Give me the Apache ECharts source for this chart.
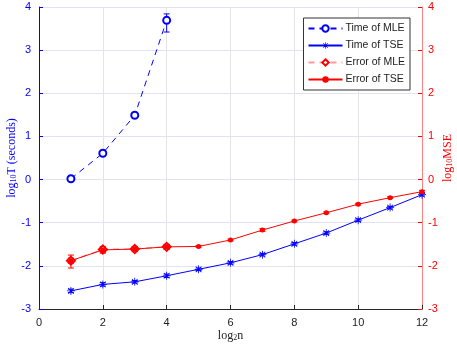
<!DOCTYPE html>
<html>
<head>
<meta charset="utf-8">
<script src="https://cdn.jsdelivr.net/npm/echarts@6/dist/echarts.min.js"></script>
<style>
  html, body { margin: 0; padding: 0; background: #fff; }
  #chart { width: 457px; height: 348px; }
</style>
</head>
<body>
<div id="chart"></div>
<script>
// log2 n
const nMle = [1, 2, 3, 4]
const nTse = [1, 2, 3, 4, 5, 6, 7, 8, 9, 10, 11, 12]

// log10 T (seconds)
const timeMle = [0.02, 0.61, 1.49, 3.69]
const timeMleLow = [-0.03, 0.57, 1.44, 3.42]
const timeMleHigh = [0.06, 0.65, 1.55, 3.84]

const timeTse = [-2.58, -2.43, -2.37, -2.23, -2.08, -1.93, -1.74, -1.49, -1.24, -0.94, -0.65, -0.35]
const timeTseErr = [0.04, 0.04, 0.03, 0.04, 0.03, 0.03, 0.03, 0.03, 0.03, 0.03, 0.03, 0.03]

// log10 MSE
const errMle = [-1.88, -1.62, -1.61, -1.56]
const errMleLow = [-2.05, -1.70, -1.67, -1.62]
const errMleHigh = [-1.75, -1.55, -1.55, -1.50]

const errTse = [-1.88, -1.63, -1.61, -1.56, -1.55, -1.40, -1.17, -0.96, -0.77, -0.57, -0.42, -0.28]
const errTseErr = [0.06, 0.07, 0.05, 0.05, 0.02, 0.02, 0.03, 0.02, 0.02, 0.02, 0.02, 0.03]

const blue = '#0000ff'
const red = '#ff0000'

// asterisk marker like matlab '*'
const star = 'path://M-0.5,-5L0.5,-5L0.5,5L-0.5,5Z M-5,-0.5L5,-0.5L5,0.5L-5,0.5Z ' +
  'M-3.15,-3.85L3.85,3.15L3.15,3.85L-3.85,-3.15Z M-3.85,3.15L3.15,-3.85L3.85,-3.15L-3.15,3.85Z'

function errorBar(name, xs, lows, highs, color, yAxisIndex) {
  const data = xs.map((x, i) => [x, lows[i], highs[i]])
  return {
    name: name,
    type: 'custom',
    yAxisIndex: yAxisIndex,
    silent: true,
    z: 3,
    renderItem: function(params, api) {
      const lo = api.coord([api.value(0), api.value(1)])
      const hi = api.coord([api.value(0), api.value(2)])
      const w = 3
      const style = { stroke: color, lineWidth: 1 }
      return {
        type: 'group',
        children: [
          { type: 'line', shape: { x1: lo[0], y1: lo[1], x2: hi[0], y2: hi[1] }, style: style },
          { type: 'line', shape: { x1: lo[0] - w, y1: lo[1], x2: lo[0] + w, y2: lo[1] }, style: style },
          { type: 'line', shape: { x1: hi[0] - w, y1: hi[1], x2: hi[0] + w, y2: hi[1] }, style: style }
        ]
      }
    },
    encode: { x: 0, y: [1, 2] },
    data: data
  }
}

const chart = echarts.init(document.getElementById('chart'))
const tickFont = { fontFamily: 'Liberation Sans', fontSize: 11 }

const option = {
  animation: false,
  grid: { left: 39, right: 35, top: 7, bottom: 39, containLabel: false, outerBoundsMode: 'none' },
  legend: {
    data: ['Time of MLE', 'Time of TSE', 'Error of MLE', 'Error of TSE'],
    orient: 'vertical',
    right: 47,
    top: 18,
    itemWidth: 34,
    itemHeight: 8,
    itemGap: 6,
    padding: [5, 5, 5, 4],
    backgroundColor: '#fff',
    borderColor: '#333',
    borderWidth: 1,
    borderRadius: 0,
    textStyle: { fontFamily: 'Liberation Sans', fontSize: 10.5, color: '#222', padding: [0, 0, 0, -2] }
  },
  xAxis: {
    type: 'value',
    min: 0,
    max: 12,
    interval: 2,
    name: 'log{s|2}n',
    nameLocation: 'middle',
    nameGap: 21,
    nameMoveOverlap: false,
    nameTextStyle: {
      fontFamily: 'Liberation Serif', fontSize: 12, color: '#222',
      rich: { s: { fontFamily: 'Liberation Serif', fontSize: 8, color: '#222', verticalAlign: 'bottom', lineHeight: 10 } }
    },
    axisLine: { onZero: false, lineStyle: { color: '#262626', width: 1 } },
    axisTick: { inside: true, length: 4, lineStyle: { color: '#262626' } },
    axisLabel: Object.assign({ color: '#222', margin: 8 }, tickFont),
    splitLine: { show: true, lineStyle: { color: '#e4e4e8', width: 1 } }
  },
  yAxis: [
    {
      type: 'value',
      min: -3,
      max: 4,
      interval: 1,
      position: 'left',
      name: 'log{s|10}T (seconds)',
      nameLocation: 'middle',
      nameRotate: 90,
      nameGap: 21,
      nameMoveOverlap: false,
      nameTextStyle: {
        fontFamily: 'Liberation Serif', fontSize: 12, color: blue,
        rich: { s: { fontFamily: 'Liberation Serif', fontSize: 8, color: blue, verticalAlign: 'bottom', lineHeight: 10 } }
      },
      axisLine: { show: true, onZero: false, lineStyle: { color: blue, width: 1 } },
      axisTick: { show: true, inside: true, length: 4, lineStyle: { color: blue } },
      axisLabel: Object.assign({ color: blue, margin: 8 }, tickFont),
      splitLine: { show: true, lineStyle: { color: '#e2e2f6', width: 1 } }
    },
    {
      type: 'value',
      min: -3,
      max: 4,
      interval: 1,
      position: 'right',
      name: 'log{s|10}MSE',
      nameLocation: 'middle',
      nameRotate: 90,
      nameGap: 20,
      nameMoveOverlap: false,
      nameTextStyle: {
        fontFamily: 'Liberation Serif', fontSize: 12, color: red,
        rich: { s: { fontFamily: 'Liberation Serif', fontSize: 8, color: red, verticalAlign: 'bottom', lineHeight: 10 } }
      },
      axisLine: { show: true, onZero: false, lineStyle: { color: '#ff8080', width: 1 } },
      axisTick: { show: true, inside: true, length: 4, lineStyle: { color: red } },
      axisLabel: Object.assign({ color: red, margin: 6 }, tickFont),
      splitLine: { show: false }
    }
  ],
  series: [
    {
      name: 'Time of MLE',
      type: 'line',
      yAxisIndex: 0,
      data: nMle.map((x, i) => [x, timeMle[i]]),
      symbol: 'emptyCircle',
      symbolSize: 7,
      lineStyle: { color: blue, width: 1, type: [6, 5] },
      itemStyle: { color: blue, borderColor: blue, borderWidth: 1 },
      z: 4
    },
    {
      name: 'Time of TSE',
      type: 'line',
      yAxisIndex: 0,
      data: nTse.map((x, i) => [x, timeTse[i]]),
      symbol: star,
      symbolSize: 8,
      lineStyle: { color: blue, width: 1 },
      itemStyle: { color: blue },
      z: 4
    },
    {
      name: 'Error of MLE',
      type: 'line',
      yAxisIndex: 1,
      data: nMle.map((x, i) => [x, errMle[i]]),
      symbol: 'emptyDiamond',
      symbolSize: 8,
      lineStyle: { color: '#ff9a9a', width: 1.5, type: [6, 5] },
      itemStyle: { color: red, borderColor: red, borderWidth: 1 },
      z: 4
    },
    {
      name: 'Error of TSE',
      type: 'line',
      yAxisIndex: 1,
      data: nTse.map((x, i) => [x, errTse[i]]),
      symbol: 'circle',
      symbolSize: 5,
      lineStyle: { color: red, width: 1 },
      itemStyle: { color: red },
      z: 5
    },
    errorBar('eb-time-mle', nMle, timeMleLow, timeMleHigh, blue, 0),
    errorBar('eb-time-tse', nTse, timeTse.map((v, i) => v - timeTseErr[i]), timeTse.map((v, i) => v + timeTseErr[i]), blue, 0),
    errorBar('eb-err-mle', nMle, errMleLow, errMleHigh, red, 1),
    errorBar('eb-err-tse', nTse, errTse.map((v, i) => v - errTseErr[i]), errTse.map((v, i) => v + errTseErr[i]), red, 1)
  ]
}

chart.setOption(option)
</script>
</body>
</html>
